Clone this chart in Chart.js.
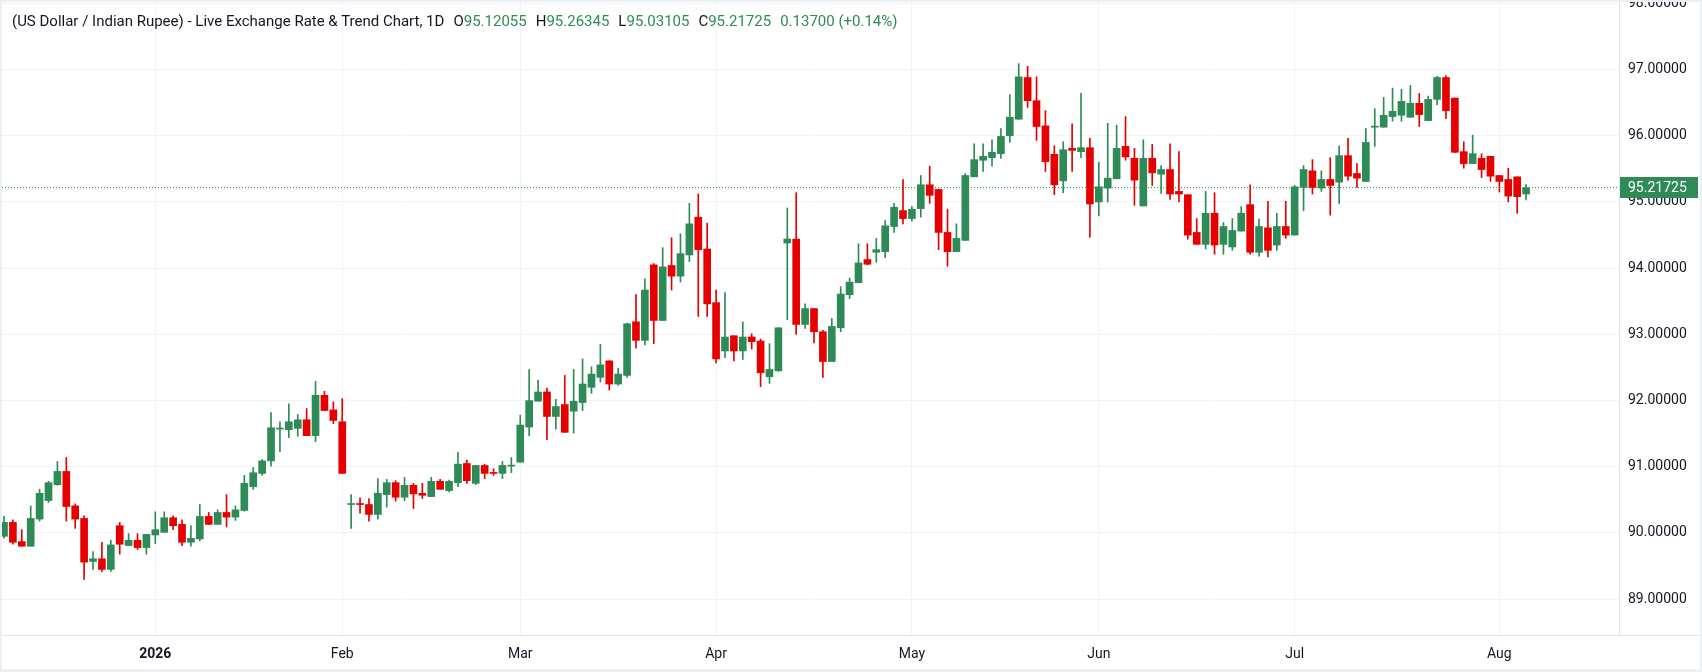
<!DOCTYPE html>
<html>
<head>
<meta charset="utf-8">
<title>USD/INR</title>
<script src="https://cdn.jsdelivr.net/npm/chart.js@4.4.1/dist/chart.umd.min.js"></script>
<style>
  html, body { margin: 0; padding: 0; background: #eceff4; }
  #wrap { position: absolute; left: 2px; top: 2px; width: 1698px; height: 667px; background: #fff; }
  #legend { position: absolute; left: 10px; top: 10px; font: 15px Roboto, sans-serif; color: #131722; white-space: nowrap; }
  #legend .v { color: #2e8b57; }
  #legend .it { margin-left: 9px; }
</style>
</head>
<body>
<div id="wrap">
  <canvas id="chart"></canvas>
  <div id="legend"></div>
</div>
<script>
// trading days shown on the chart
const dates = [
  '2025-12-08','2025-12-09','2025-12-10','2025-12-11','2025-12-12','2025-12-15','2025-12-16','2025-12-17','2025-12-18','2025-12-19',
  '2025-12-22','2025-12-23','2025-12-24','2025-12-26','2025-12-29','2025-12-30','2025-12-31',
  '2026-01-02','2026-01-05','2026-01-06','2026-01-07','2026-01-08','2026-01-09','2026-01-12','2026-01-13','2026-01-14','2026-01-15',
  '2026-01-16','2026-01-19','2026-01-20','2026-01-21','2026-01-22','2026-01-23','2026-01-26','2026-01-27','2026-01-28','2026-01-29','2026-01-30',
  '2026-02-02','2026-02-03','2026-02-04','2026-02-05','2026-02-06','2026-02-09','2026-02-10','2026-02-11','2026-02-12','2026-02-13',
  '2026-02-16','2026-02-17','2026-02-18','2026-02-19','2026-02-20','2026-02-23','2026-02-24','2026-02-25','2026-02-26','2026-02-27',
  '2026-03-02','2026-03-03','2026-03-04','2026-03-05','2026-03-06','2026-03-09','2026-03-10','2026-03-11','2026-03-12','2026-03-13',
  '2026-03-16','2026-03-17','2026-03-18','2026-03-19','2026-03-20','2026-03-23','2026-03-24','2026-03-25','2026-03-26','2026-03-27','2026-03-30','2026-03-31',
  '2026-04-01','2026-04-02','2026-04-03','2026-04-06','2026-04-07','2026-04-08','2026-04-09','2026-04-10','2026-04-13','2026-04-14',
  '2026-04-15','2026-04-16','2026-04-17','2026-04-20','2026-04-21','2026-04-22','2026-04-23','2026-04-24','2026-04-27','2026-04-28','2026-04-29','2026-04-30',
  '2026-05-01','2026-05-04','2026-05-05','2026-05-06','2026-05-07','2026-05-08','2026-05-11','2026-05-12','2026-05-13','2026-05-14',
  '2026-05-15','2026-05-18','2026-05-19','2026-05-20','2026-05-21','2026-05-22','2026-05-25','2026-05-26','2026-05-27','2026-05-28','2026-05-29',
  '2026-06-01','2026-06-02','2026-06-03','2026-06-04','2026-06-05','2026-06-08','2026-06-09','2026-06-10','2026-06-11','2026-06-12',
  '2026-06-15','2026-06-16','2026-06-17','2026-06-18','2026-06-19','2026-06-22','2026-06-23','2026-06-24','2026-06-25','2026-06-26','2026-06-29','2026-06-30',
  '2026-07-01','2026-07-02','2026-07-03','2026-07-06','2026-07-07','2026-07-08','2026-07-09','2026-07-10','2026-07-13','2026-07-14',
  '2026-07-15','2026-07-16','2026-07-17','2026-07-20','2026-07-21','2026-07-22','2026-07-23','2026-07-24','2026-07-27','2026-07-28','2026-07-29','2026-07-30','2026-07-31',
  '2026-08-03','2026-08-04','2026-08-05','2026-08-06'
];

const opens = [
  89.95, 90.16, 89.87, 89.80, 90.21, 90.49, 90.73, 90.93, 90.41, 90.22, 89.57, 89.61, 89.45, 90.11, 89.81, 89.89, 89.78,
  89.97, 90.01, 90.23, 90.13, 89.86, 89.91, 90.25, 90.13, 90.31, 90.24, 90.34, 90.70, 90.90, 91.09, 91.57, 91.56, 91.58, 91.71, 91.47, 92.08, 91.86,
  91.68, 90.43, 90.44, 90.43, 90.28, 90.58, 90.76, 90.54, 90.72, 90.60, 90.55, 90.78, 90.64, 90.76, 91.05, 90.75, 91.02, 90.91, 90.90, 91.01,
  91.07, 91.60, 91.99, 92.13, 91.76, 91.94, 91.84, 91.97, 92.20, 92.35, 92.60, 92.25, 92.38, 93.19, 92.91, 94.05, 93.21, 94.04, 93.88, 94.20, 94.77, 94.29,
  93.48, 92.75, 92.98, 92.75, 92.96, 92.90, 92.36, 92.45, 94.38, 94.44, 93.15, 93.39, 93.04, 92.59, 93.10, 93.60, 93.78, 94.13, 94.24, 94.25, 94.63, 94.87,
  94.75, 94.90, 95.26, 95.19, 94.54, 94.25, 94.42, 95.38, 95.63, 95.67, 95.73, 96.00, 96.25, 96.88, 96.53, 96.15, 95.72, 95.32, 95.81, 95.76, 95.82,
  95.00, 95.21, 95.35, 95.84, 95.66, 94.94, 95.66, 95.42, 95.49, 95.16, 95.11, 94.54, 94.36, 94.83, 94.36, 94.32, 94.56, 94.96, 94.24, 94.61, 94.35, 94.63,
  94.50, 95.22, 95.47, 95.21, 95.34, 95.30, 95.70, 95.43, 95.31, 96.13, 96.13, 96.29, 96.31, 96.28, 96.49, 96.23, 96.55, 96.88, 96.57, 95.76, 95.58, 95.66, 95.69,
  95.40, 95.34, 95.38, 95.12055
];
const highs = [
  90.25, 90.20, 90.05, 90.41, 90.66, 90.78, 91.08, 91.14, 90.44, 90.26, 89.72, 89.86, 89.89, 90.16, 89.99, 89.99, 89.98,
  90.32, 90.32, 90.26, 90.20, 90.11, 90.43, 90.31, 90.35, 90.58, 90.41, 90.87, 90.99, 91.11, 91.82, 91.68, 91.95, 91.79, 91.88, 92.29, 92.14, 91.98,
  92.03, 90.58, 90.53, 90.52, 90.82, 90.81, 90.79, 90.84, 90.75, 90.75, 90.84, 90.81, 90.80, 91.22, 91.10, 91.02, 91.04, 90.97, 91.08, 91.14,
  91.78, 92.47, 92.31, 92.19, 92.02, 92.38, 92.47, 92.63, 92.51, 92.85, 92.60, 92.49, 93.17, 93.60, 93.84, 94.07, 94.31, 94.46, 94.52, 94.98, 95.12, 94.68,
  93.67, 93.63, 92.98, 93.19, 93.01, 92.93, 92.86, 93.10, 94.91, 95.14, 93.46, 93.39, 93.06, 93.24, 93.72, 93.85, 94.37, 94.37, 94.45, 94.72, 94.98, 95.34,
  94.93, 95.40, 95.54, 95.19, 94.89, 94.67, 95.43, 95.88, 95.88, 95.94, 96.11, 96.62, 97.09, 97.05, 96.89, 96.38, 95.85, 95.91, 96.18, 96.64, 95.96,
  95.60, 96.19, 96.16, 96.29, 95.81, 95.94, 95.87, 95.55, 95.88, 95.76, 95.11, 94.75, 95.16, 95.14, 94.69, 94.75, 94.93, 95.26, 94.74, 95.01, 94.83, 95.01,
  95.25, 95.55, 95.64, 95.47, 95.67, 95.85, 95.96, 95.58, 96.11, 96.41, 96.58, 96.72, 96.70, 96.76, 96.64, 96.60, 96.90, 96.91, 96.57, 95.91, 96.01, 95.73, 95.69,
  95.40, 95.51, 95.38, 95.26345
];
const lows = [
  89.92, 89.83, 89.80, 89.80, 90.18, 90.46, 90.72, 90.18, 90.07, 89.30, 89.45, 89.42, 89.42, 89.68, 89.81, 89.75, 89.68,
  89.84, 90.01, 90.05, 89.81, 89.80, 89.88, 90.13, 90.13, 90.09, 90.19, 90.33, 90.66, 90.87, 91.01, 91.23, 91.44, 91.46, 91.47, 91.38, 91.85, 91.65,
  90.90, 90.07, 90.30, 90.18, 90.21, 90.39, 90.48, 90.49, 90.37, 90.52, 90.55, 90.66, 90.62, 90.70, 90.75, 90.73, 90.82, 90.87, 90.82, 90.91,
  91.07, 91.47, 91.99, 91.41, 91.57, 91.52, 91.51, 91.85, 92.11, 92.28, 92.16, 92.23, 92.35, 92.79, 92.84, 92.86, 93.21, 93.67, 93.79, 94.10, 93.27, 93.27,
  92.57, 92.65, 92.60, 92.62, 92.78, 92.21, 92.26, 92.44, 93.22, 93.00, 93.09, 92.87, 92.35, 92.59, 93.04, 93.54, 93.78, 94.05, 94.09, 94.16, 94.54, 94.67,
  94.71, 94.77, 94.98, 94.28, 94.03, 94.25, 94.42, 95.38, 95.46, 95.54, 95.66, 95.90, 96.25, 96.43, 95.93, 95.46, 95.11, 95.14, 95.46, 95.67, 94.47,
  94.79, 95.00, 95.35, 95.63, 94.95, 94.94, 95.25, 95.13, 95.04, 95.00, 94.44, 94.36, 94.29, 94.21, 94.21, 94.27, 94.56, 94.21, 94.18, 94.17, 94.27, 94.45,
  94.50, 94.87, 95.12, 95.16, 94.80, 94.98, 95.33, 95.22, 95.31, 95.84, 96.13, 96.22, 96.22, 96.28, 96.14, 96.23, 96.47, 96.26, 95.75, 95.51, 95.58, 95.37, 95.31,
  95.15, 95.00, 94.83, 95.03105
];
const closes = [
  90.16, 89.86, 89.80, 90.22, 90.60, 90.76, 90.93, 90.40, 90.21, 89.56, 89.61, 89.45, 89.82, 89.83, 89.89, 89.78, 89.98,
  90.05, 90.23, 90.11, 89.86, 89.92, 90.25, 90.13, 90.31, 90.24, 90.35, 90.75, 90.91, 91.09, 91.59, 91.58, 91.68, 91.71, 91.47, 92.08, 91.85, 91.70,
  90.90, 90.44, 90.43, 90.28, 90.60, 90.76, 90.54, 90.72, 90.59, 90.57, 90.78, 90.66, 90.78, 91.04, 90.79, 91.02, 90.90, 90.90, 91.02, 91.02,
  91.63, 92.00, 92.13, 91.76, 91.91, 91.52, 91.99, 92.25, 92.40, 92.54, 92.25, 92.40, 93.16, 92.91, 93.67, 93.21, 94.02, 93.88, 94.22, 94.67, 94.28, 93.46,
  92.63, 92.96, 92.75, 92.96, 92.89, 92.42, 92.47, 93.10, 94.44, 93.15, 93.39, 93.04, 92.59, 93.12, 93.61, 93.79, 94.08, 94.06, 94.28, 94.64, 94.92, 94.75,
  94.89, 95.26, 95.10, 94.54, 94.25, 94.45, 95.40, 95.64, 95.69, 95.75, 95.99, 96.28, 96.89, 96.53, 96.14, 95.61, 95.26, 95.79, 95.78, 95.82, 94.97,
  95.23, 95.36, 95.81, 95.68, 95.33, 95.66, 95.44, 95.49, 95.12, 95.12, 94.50, 94.36, 94.83, 94.35, 94.63, 94.57, 94.83, 94.24, 94.63, 94.27, 94.63, 94.50,
  95.23, 95.49, 95.22, 95.34, 95.25, 95.70, 95.39, 95.36, 95.90, 96.14, 96.31, 96.37, 96.52, 96.49, 96.32, 96.55, 96.88, 96.38, 95.75, 95.58, 95.73, 95.49, 95.39,
  95.31, 95.09, 95.08025, 95.21725
];

const monthNames = ['Jan','Feb','Mar','Apr','May','Jun','Jul','Aug','Sep','Oct','Nov','Dec'];
const yTicks = [89, 90, 91, 92, 93, 94, 95, 96, 97, 98];
const title = '(US Dollar / Indian Rupee) - Live Exchange Rate & Trend Chart, 1D';

const UP = '#2e8b57';
const DOWN = '#e60000';
const FONT = 'Roboto, sans-serif';
const X_MIN = -0.225, X_MAX = 181.44;
const Y_MIN = 88.459, Y_MAX = 98.021;

// first trading day of each month -> tick position
const monthStarts = [];
dates.forEach((d, i) => {
  if (i > 0 && d.slice(5, 7) !== dates[i - 1].slice(5, 7)) monthStarts.push(i);
});
function tickLabel(i) {
  const d = dates[i];
  const m = +d.slice(5, 7);
  return m === 1 ? d.slice(0, 4) : monthNames[m - 1];
}

const n = closes.length;
const last = closes[n - 1];
const change = last - closes[n - 2];
const colors = closes.map((c, i) => c >= opens[i] ? UP : DOWN);

// header line above the plot
const legend = document.getElementById('legend');
legend.innerHTML = '<span>' + title.replace('&', '&amp;') + '</span>' +
  ['O', 'H', 'L', 'C'].map((k, j) => {
    const v = [opens, highs, lows, closes][j][n - 1];
    return '<span class="it">' + k + '<span class="v">' + v.toFixed(5) + '</span></span>';
  }).join('') +
  '<span class="it v">' + change.toFixed(5) + ' (' + (change >= 0 ? '+' : '') +
  (change / closes[n - 2] * 100).toFixed(2) + '%)</span>';

// frame lines and the last price tag on the price scale
const framePlugin = {
  id: 'frame',
  afterDraw(chart) {
    const { ctx, chartArea: a, width } = chart;
    const y = chart.scales.y.getPixelForValue(last);
    ctx.save();
    ctx.strokeStyle = '#e0e3eb';
    ctx.lineWidth = 1;
    ctx.beginPath();
    ctx.moveTo(0, Math.round(a.bottom) + 0.5);
    ctx.lineTo(width, Math.round(a.bottom) + 0.5);
    ctx.moveTo(Math.round(a.right) + 0.5, 0);
    ctx.lineTo(Math.round(a.right) + 0.5, a.bottom);
    ctx.stroke();
    ctx.fillStyle = UP;
    ctx.fillRect(Math.round(a.right) + 1, Math.round(y - 10.5), 78, 21);
    ctx.fillStyle = '#ffffff';
    ctx.font = '14px ' + FONT;
    ctx.textBaseline = 'middle';
    ctx.fillText(last.toFixed(5), a.right + 9, y + 1);
    ctx.restore();
  }
};

const ctx = document.getElementById('chart').getContext('2d');
new Chart(ctx, {
  type: 'bar',
  data: {
    datasets: [
      {
        label: 'body',
        data: closes.map((c, i) => ({ x: i, y: [opens[i], c] })),
        backgroundColor: colors,
        borderWidth: 0,
        barThickness: 7,
        minBarLength: 1,
        grouped: false,
        order: 1
      },
      {
        label: 'wick',
        data: highs.map((h, i) => ({ x: i, y: [lows[i], h] })),
        backgroundColor: colors,
        borderWidth: 0,
        barThickness: 1,
        grouped: false,
        order: 2
      },
      {
        type: 'line',
        label: 'last',
        data: [{ x: X_MIN, y: last }, { x: X_MAX, y: last }],
        borderColor: UP,
        borderWidth: 1,
        borderDash: [1, 2],
        pointRadius: 0,
        order: 3
      }
    ]
  },
  options: {
    responsive: true,
    maintainAspectRatio: false,
    animation: false,
    layout: { padding: 0 },
    plugins: {
      legend: { display: false },
      tooltip: { enabled: false }
    },
    scales: {
      x: {
        type: 'linear',
        min: X_MIN,
        max: X_MAX,
        offset: false,
        afterBuildTicks: axis => { axis.ticks = monthStarts.map(v => ({ value: v })); },
        afterFit: s => { s.height = 34; s.paddingLeft = 0; s.paddingRight = 0; },
        grid: { color: '#f0f3fa', drawTicks: false, offset: false },
        border: { display: false },
        ticks: {
          autoSkip: false,
          maxRotation: 0,
          padding: 11,
          color: '#131722',
          font: c => ({ family: FONT, size: 14, weight: (c.tick && dates[c.tick.value].slice(5, 7) === '01') ? 'bold' : 'normal' }),
          callback: v => tickLabel(v)
        }
      },
      y: {
        position: 'right',
        min: Y_MIN,
        max: Y_MAX,
        afterBuildTicks: axis => { axis.ticks = yTicks.map(v => ({ value: v })); },
        afterFit: s => { s.width = 81; s.paddingTop = 0; s.paddingBottom = 0; },
        grid: { color: '#f0f3fa', drawTicks: false },
        border: { display: false },
        ticks: {
          padding: 9,
          color: '#131722',
          font: { family: FONT, size: 14 },
          callback: v => v.toFixed(5)
        }
      }
    }
  },
  plugins: [framePlugin]
});
</script>
</body>
</html>
